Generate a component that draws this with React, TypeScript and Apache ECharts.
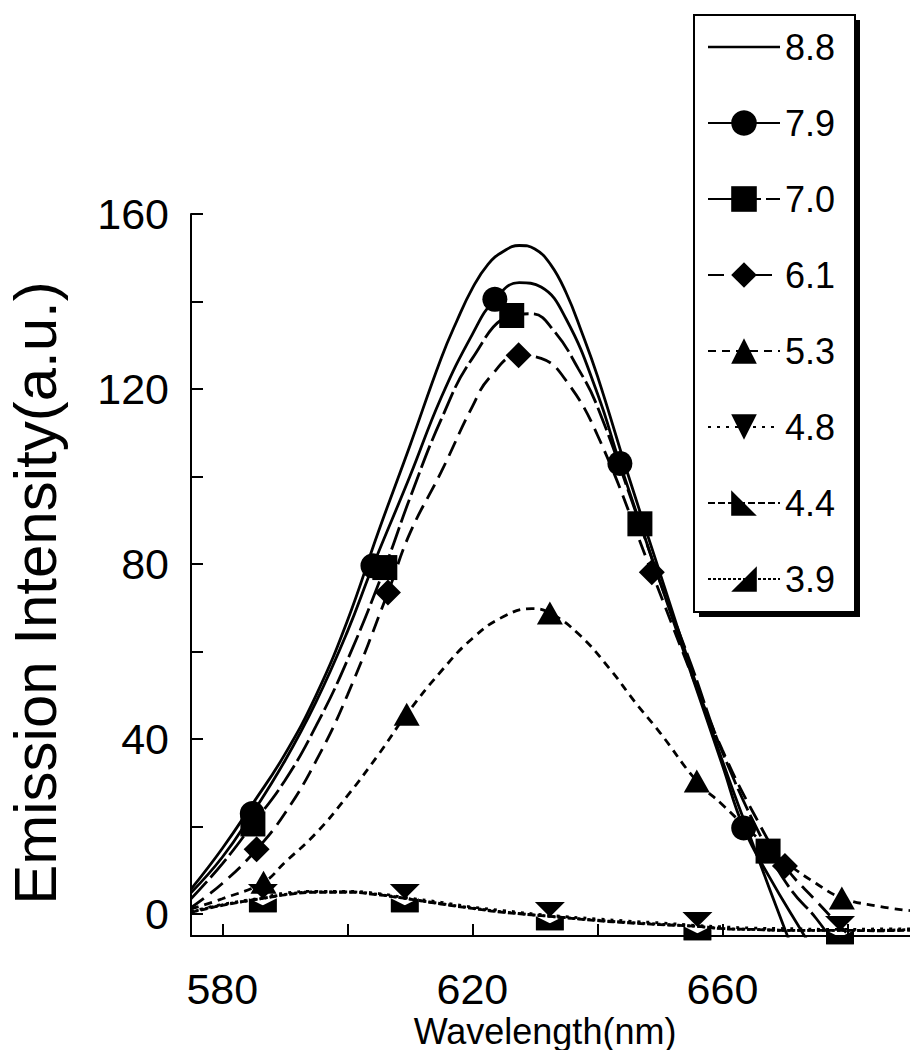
import { useEffect, useRef } from "react";
import * as echarts from "echarts";

const FONT = "Liberation Sans, Arial, sans-serif";

const xTickValues = [580, 600, 620, 640, 660, 680];
const xLabelValues = [580, 620, 660];
const yTickValues = [0, 20, 40, 60, 80, 100, 120, 140, 160];
const yLabelValues = [0, 40, 80, 120, 160];

const seriesNames = ["8.8", "7.9", "7.0", "6.1", "5.3", "4.8", "4.4", "3.9"];

// pH 8.8 (no markers)
const wl88 = [575, 580, 585, 590, 595, 600, 605, 610, 615, 617.5, 620, 622.5, 625, 627.5, 630, 632.5, 635, 637.5, 640, 645, 650, 655, 660, 665, 670, 675];
const int88 = [5.7, 15, 25.5, 36.5, 50, 67, 87.5, 107, 127, 135.5, 143, 148.5, 151.5, 152.8, 152, 148.5, 142, 133, 123, 100, 78, 56, 35, 15.5, -3.5, -22];
const mk88: number[] = [];

// pH 7.9 (circles)
const wl79 = [575, 580, 584.8, 590, 595, 600, 604.1, 610, 615, 620, 623.6, 627.5, 631, 635, 640, 643.6, 650, 655, 660, 663.4, 667.5, 672.5, 677];
const int79 = [4.9, 13, 23, 35, 48.5, 64.5, 79.6, 100, 118, 132.5, 140.5, 144.3, 143.3, 136, 119, 103, 76, 55, 34, 19.7, 8.5, -3.5, -14];
const mk79 = [584.8, 604.1, 623.6, 643.6, 663.4];

// pH 7.0 (squares)
const wl70 = [575, 580, 584.9, 590, 595, 600, 606, 610, 615, 620, 626.3, 629.5, 633, 637, 640, 646.8, 650, 655, 660, 667.3, 671, 675, 680];
const int70 = [3.5, 11.5, 20.6, 30.5, 43, 58, 79.2, 95, 113, 127, 136.8, 137.2, 133.4, 124.5, 116, 89.2, 76, 57, 37, 14.4, 5.5, -1, -11];
const mk70 = [584.9, 606, 626.3, 646.8, 667.3];

// pH 6.1 (diamonds)
const wl61 = [575, 580, 585.5, 590, 595, 600, 606.5, 610, 615, 620, 622.8, 627.4, 631, 634.6, 640, 648.7, 655, 660, 665, 670, 675, 680, 685];
const int61 = [1.5, 7, 14.8, 23, 35, 50, 73.5, 87, 101, 116, 122.7, 127.7, 127, 122.7, 109.5, 78.1, 55, 37.5, 23, 11, 3, -4.5, -12];
const mk61 = [585.5, 606.5, 627.4, 648.7, 670];

// pH 5.3 (up triangles)
const wl53 = [575, 580, 586.6, 590, 595, 600, 605, 609.5, 615, 620, 625, 629.5, 632.4, 637, 642, 646, 650, 655.9, 660, 665, 670, 675, 679.1, 685, 690];
const int53 = [1.2, 3.5, 7.3, 11.8, 18.5, 27, 36.5, 45.7, 55.5, 63, 68, 69.8, 68.8, 64, 56, 48.5, 41.5, 30.4, 25, 18.2, 12, 7, 3.7, 1.8, 0.8];
const mk53 = [586.6, 609.5, 632.4, 655.9, 679.1];

// pH 4.8 / 4.4 / 3.9 (bottom curves)
const wlLow = [575, 580, 586.5, 590, 595, 600, 605, 609.2, 615, 620, 625, 632.4, 640, 645, 650, 656, 660, 665, 670, 678.8, 685, 690];
const int48 = [0.6, 2.2, 3.8, 4.8, 5.2, 5.2, 4.7, 3.8, 2.7, 1.6, 0.8, -0.3, -1.1, -1.6, -2.0, -2.6, -2.9, -3.2, -3.3, -3.5, -3.4, -3.4];
const int44 = [0.4, 2.0, 3.6, 4.4, 5.0, 5.0, 4.4, 3.6, 2.3, 1.3, 0.4, -0.5, -1.5, -2.0, -2.4, -2.8, -3.3, -3.5, -3.7, -3.7, -3.8, -3.7];
const int39 = [0.5, 2.1, 3.6, 4.5, 5.1, 5.1, 4.5, 3.6, 2.4, 1.4, 0.5, -0.5, -1.4, -1.9, -2.3, -2.8, -3.3, -3.5, -3.7, -3.7, -3.7, -3.5];
const mkLow = [586.5, 609.2, 632.4, 656, 678.8];

type Spec = {
  name: string;
  wl: number[];
  vals: number[];
  marks: number[];
  symbol: string;
  size: number | number[];
  offset: number[];
  dash: any;
  width: number;
};

const specs: Spec[] = [
  { name: seriesNames[0], wl: wl88, vals: int88, marks: mk88, symbol: "circle", size: 25, offset: [0, 0], dash: "solid", width: 2.8 },
  { name: seriesNames[1], wl: wl79, vals: int79, marks: mk79, symbol: "circle", size: 25, offset: [0, 0], dash: "solid", width: 2.8 },
  { name: seriesNames[2], wl: wl70, vals: int70, marks: mk70, symbol: "rect", size: 25, offset: [0, 0], dash: [24, 5], width: 2.8 },
  { name: seriesNames[3], wl: wl61, vals: int61, marks: mk61, symbol: "diamond", size: 26, offset: [0, 0], dash: [16, 8], width: 2.8 },
  { name: seriesNames[4], wl: wl53, vals: int53, marks: mk53, symbol: "triangle", size: [26, 23], offset: [0, 0], dash: [8, 6], width: 2.8 },
  { name: seriesNames[5], wl: wlLow, vals: int48, marks: mkLow, symbol: "path://M0,0 L10,0 L5,10 Z", size: [30, 15], offset: [0, -6], dash: [3, 6], width: 2.8 },
  { name: seriesNames[6], wl: wlLow, vals: int44, marks: mkLow, symbol: "path://M0,0 L0,10 L10,10 Z", size: [28, 14], offset: [0, 7], dash: [7, 3], width: 2.8 },
  { name: seriesNames[7], wl: wlLow, vals: int39, marks: mkLow, symbol: "path://M10,0 L10,10 L0,10 Z", size: [28, 14], offset: [0, 7], dash: [3, 2], width: 2.8 },
];

function buildSeries(s: Spec) {
  const data = s.wl.map((x, i) =>
    s.marks.includes(x)
      ? { value: [x, s.vals[i]] }
      : { value: [x, s.vals[i]], symbol: "none" }
  );
  return {
    name: s.name,
    type: "line",
    data,
    smooth: 0.45,
    symbol: s.symbol,
    symbolSize: s.size,
    symbolOffset: s.offset,
    showSymbol: true,
    clip: true,
    lineStyle: { color: "#000", width: s.width, type: s.dash },
    itemStyle: { color: "#000", borderWidth: 0 },
    emphasis: { disabled: true },
  };
}

export default function App() {
  const ref = useRef<HTMLDivElement>(null);
  useEffect(() => {
    if (!ref.current) return;
    const chart = echarts.init(ref.current, null, { renderer: "svg" });
    const option: any = {
      animation: false,
      backgroundColor: "#fff",
      grid: { left: 191, top: 214, right: 0, bottom: 114, containLabel: false },
      xAxis: {
        type: "value",
        min: 575,
        max: 690,
        axisLine: { show: true, onZero: false, lineStyle: { color: "#000", width: 2 } },
        axisTick: { show: true, inside: true, length: 12, customValues: xTickValues, lineStyle: { color: "#000", width: 2 } },
        axisLabel: { show: true, customValues: xLabelValues, fontSize: 43, margin: 31, color: "#000", fontFamily: FONT },
        splitLine: { show: false },
      },
      yAxis: {
        type: "value",
        min: -5,
        max: 160,
        axisLine: { show: true, onZero: false, lineStyle: { color: "#000", width: 2 } },
        axisTick: { show: true, inside: true, length: 12, customValues: yTickValues, lineStyle: { color: "#000", width: 2 } },
        axisLabel: { show: true, customValues: yLabelValues, fontSize: 43, margin: 22, color: "#000", fontFamily: FONT },
        splitLine: { show: false },
      },
      legend: {
        orient: "vertical",
        left: 707,
        top: 29,
        padding: 0,
        itemWidth: 72,
        itemHeight: 32,
        itemGap: 40,
        selectedMode: false,
        textStyle: { fontSize: 36, color: "#000", fontFamily: FONT },
        data: [
          { name: seriesNames[0], icon: "path://M0,0 H72 V2.5 H0 Z" },
          ...seriesNames.slice(1),
        ],
        z: 10,
      },
      graphic: [
        { type: "rect", z: 1, silent: true, shape: { x: 699, y: 20, width: 161, height: 597 }, style: { fill: "#000" } },
        { type: "rect", z: 2, silent: true, shape: { x: 694, y: 15, width: 161, height: 597 }, style: { fill: "#fff", stroke: "#000", lineWidth: 2 } },
        {
          type: "text",
          x: 35,
          y: 593,
          rotation: Math.PI / 2,
          silent: true,
          style: { text: "Emission Intensity(a.u.)", fontSize: 60, fontFamily: FONT, fill: "#000", textAlign: "center", textVerticalAlign: "middle" },
        },
        {
          type: "text",
          x: 545,
          y: 1031,
          silent: true,
          style: { text: "Wavelength(nm)", fontSize: 36, fontFamily: FONT, fill: "#000", textAlign: "center", textVerticalAlign: "middle" },
        },
      ],
      series: specs.map(buildSeries),
    };
    chart.setOption(option);
    return () => chart.dispose();
  }, []);
  return (
    <div
      ref={ref}
      style={{ position: "absolute", left: 0, top: 0, width: 910, height: 1050, background: "#fff" }}
    />
  );
}
